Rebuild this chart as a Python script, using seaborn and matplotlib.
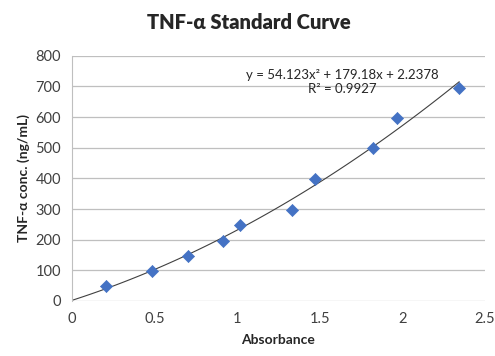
import numpy as np
import pandas as pd
import matplotlib
matplotlib.use("Agg")
import matplotlib.pyplot as plt
import seaborn as sns

absorbance = [0.205, 0.485, 0.70, 0.915, 1.02, 1.335, 1.47, 1.82, 1.97, 2.345]
conc = [48, 97, 148, 197, 247, 298, 398, 498, 597, 695]
x_ticks = [0, 0.5, 1, 1.5, 2, 2.5]
y_ticks = [0, 100, 200, 300, 400, 500, 600, 700, 800]
equation = "y = 54.123x² + 179.18x + 2.2378\nR² = 0.9927"

sns.set_style("white")
plt.rcParams['font.family'] = ['Lato', 'DejaVu Sans']

df = pd.DataFrame({'Absorbance': absorbance, 'Conc': conc})

# courbe de tendance polynomiale (ordre 2)
coef = np.polyfit(df['Absorbance'], df['Conc'], 2)
xs = np.linspace(0, max(absorbance), 100)
fit = pd.DataFrame({'x': xs, 'y': np.polyval(coef, xs)})

fig = plt.figure(figsize=(4.95, 3.56), dpi=100)
ax = fig.add_axes([0.1455, 0.1545, 0.834, 0.689])

sns.lineplot(data=fit, x='x', y='y', ax=ax, color='#404040', linewidth=0.8, zorder=2)
sns.scatterplot(data=df, x='Absorbance', y='Conc', ax=ax, marker='D', s=38,
                color='#4472C4', edgecolor='#4472C4', zorder=3)

ax.set_xlim(0, 2.5)
ax.set_ylim(0, 800)
ax.set_xticks(x_ticks)
ax.set_xticklabels([f"{t:g}" for t in x_ticks])
ax.set_yticks(y_ticks)
ax.grid(axis='y', color='#BFBFBF', linewidth=0.9)
ax.set_axisbelow(True)
for s in ['top', 'right', 'bottom']:
    ax.spines[s].set_visible(False)
ax.spines['left'].set_color('#BFBFBF')
ax.tick_params(axis='both', length=0, labelsize=10.5, labelcolor='#404040', pad=8)

ax.set_xlabel('Absorbance', fontsize=10, fontweight='bold', labelpad=6)
ax.set_ylabel('TNF-α conc. (ng/mL)', fontsize=10, fontweight='bold', labelpad=4)

fig.text(0.503, 0.937, 'TNF-α Standard Curve', ha='center', va='center',
         fontsize=14.5, fontweight='heavy')
ax.text(1.635, 672, equation, ha='center', va='bottom', fontsize=9.5,
        color='#262626', linespacing=1.15)

plt.savefig('out.png', dpi=100)
